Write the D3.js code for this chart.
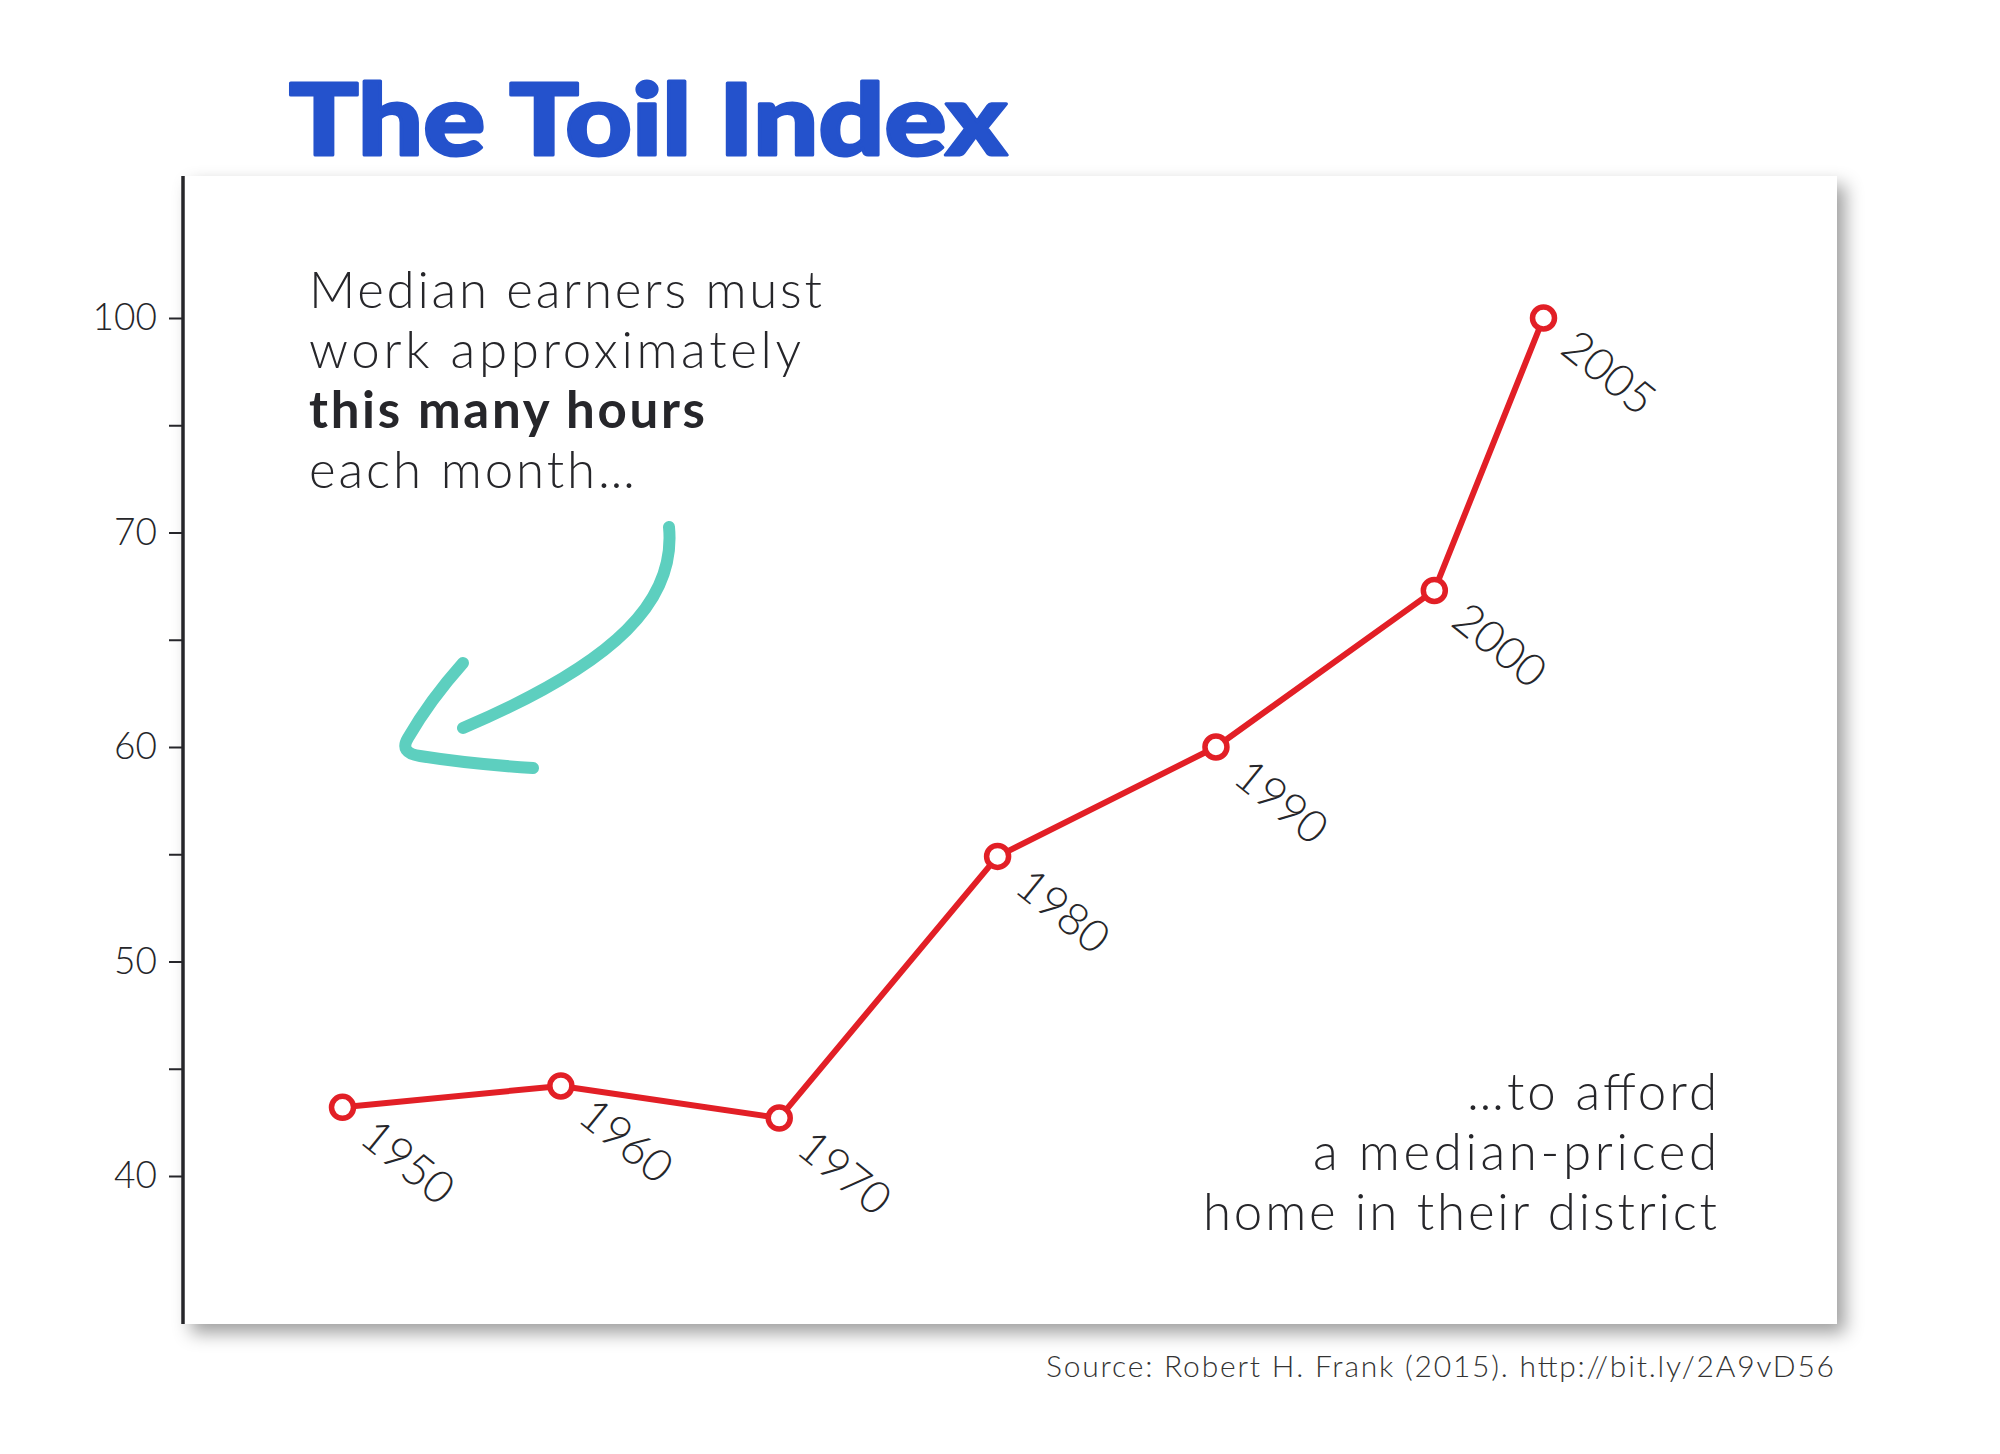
<!DOCTYPE html>
<html>
<head>
<meta charset="utf-8">
<script src="https://cdn.jsdelivr.net/npm/d3@7"></script>
<style>
    body { margin: 0; background: #ffffff; }
    text { font-family: "Lato", "Open Sans", sans-serif; }
</style>
</head>
<body>
<div id="chart"></div>
<script>

// data
let years = [1950, 1960, 1970, 1980, 1990, 2000, 2005];
let hours = [43.2, 44.2, 42.7, 54.9, 60.0, 67.3, 100];

// y axis is broken: labels are evenly spaced, 70 -> 100 squeezed into one step
let tick_values = [40, 50, 60, 70, 100];
let minor_tick_values = [45, 55, 65, 85];

let title_text = "The Toil Index";
let note_top = ["Median earners must", "work approximately", "this many hours", "each month\u2026"];
let note_bottom = ["\u2026to afford", "a median-priced", "home in their district"];
let source_text = "Source: Robert H. Frank (2015). http://bit.ly/2A9vD56";

let chart_width = 2000;
let chart_height = 1454;

let card = { x: 183, y: 176, w: 1654, h: 1148 };
let y_bottom = 1176;   // position of the first tick (40)
let y_step = 214.5;    // distance between labelled ticks

let red = "#e21f26";
let teal = "#5dcfbf";
let blue = "#2452cc";
let ink = "#26262a";

let svg = d3.select("#chart")
            .append("svg")
            .attr("width", chart_width)
            .attr("height", chart_height);

let defs = svg.append("defs");
let shadow = defs.append("filter")
                .attr("id", "card_shadow")
                .attr("x", "-5%").attr("y", "-5%")
                .attr("width", "112%").attr("height", "115%");
shadow.append("feDropShadow")
    .attr("dx", 8)
    .attr("dy", 9)
    .attr("stdDeviation", 9)
    .attr("flood-color", "#000")
    .attr("flood-opacity", 0.38);

// white card with shadow
svg.append("rect")
    .attr("x", card.x)
    .attr("y", card.y)
    .attr("width", card.w)
    .attr("height", card.h)
    .attr("fill", "#ffffff")
    .attr("filter", "url(#card_shadow)");

// title
svg.append("text")
    .attr("x", 289)
    .attr("y", 155)
    .attr("font-size", 99)
    .attr("font-weight", 900)
    .attr("fill", blue)
    .attr("stroke", blue)
    .attr("stroke-width", 3)
    .attr("stroke-linejoin", "round")
    .attr("textLength", 718)
    .attr("lengthAdjust", "spacingAndGlyphs")
    .text(title_text);

let xScale = d3.scaleLinear()
                .domain([1950, 2005])
                .range([342.5, 1543.5]);

let yScale = d3.scaleLinear()
                .domain(tick_values)
                .range(tick_values.map((d, i) => y_bottom - i * y_step));

// axis
let y_axis = svg.append("g")
                .attr("class", "y axis")
                .attr("transform", "translate(" + card.x + ",0)");

y_axis.call(d3.axisLeft(yScale)
                .tickValues(tick_values)
                .tickSize(14)
                .tickPadding(12)
                .tickFormat(d3.format("d")));

let y_minor = svg.append("g")
                .attr("class", "y minor")
                .attr("transform", "translate(" + card.x + ",0)");

y_minor.call(d3.axisLeft(yScale)
                .tickValues(minor_tick_values)
                .tickSize(14)
                .tickFormat(""));

svg.selectAll(".axis .domain, .minor .domain").remove();
svg.selectAll(".axis line, .minor line")
    .attr("stroke", ink)
    .attr("stroke-width", 2);
y_axis.selectAll("text")
    .attr("font-family", "Lato")
    .attr("font-size", 37)
    .attr("font-weight", 300)
    .attr("fill", ink);

svg.append("line")
    .attr("x1", card.x)
    .attr("x2", card.x)
    .attr("y1", card.y)
    .attr("y2", card.y + card.h)
    .attr("stroke", ink)
    .attr("stroke-width", 3.5);

// upper-left note
let note_top_lengths = [513, 492, 396, 326];
svg.selectAll(".note_top")
    .data(note_top)
    .enter()
    .append("text")
    .attr("class", "note_top")
    .attr("x", 309)
    .attr("y", (d, i) => 308 + i * 60)
    .attr("font-size", 51)
    .attr("font-weight", (d, i) => i === 2 ? 700 : 300)
    .attr("fill", ink)
    .attr("textLength", (d, i) => note_top_lengths[i])
    .attr("lengthAdjust", "spacing")
    .text(d => d);

// lower-right note
let note_bottom_lengths = [250, 404, 514];
svg.selectAll(".note_bottom")
    .data(note_bottom)
    .enter()
    .append("text")
    .attr("class", "note_bottom")
    .attr("x", 1717)
    .attr("y", (d, i) => 1110 + i * 60)
    .attr("text-anchor", "end")
    .attr("font-size", 51)
    .attr("font-weight", 300)
    .attr("fill", ink)
    .attr("textLength", (d, i) => note_bottom_lengths[i])
    .attr("lengthAdjust", "spacing")
    .text(d => d);

// hand drawn arrow
let arrow = svg.append("g")
                .attr("fill", "none")
                .attr("stroke", teal)
                .attr("stroke-width", 12)
                .attr("stroke-linecap", "round")
                .attr("stroke-linejoin", "round");
arrow.append("path")
    .attr("d", "M669,527 C676,600 618,662 463,728");
arrow.append("path")
    .attr("d", "M463,663 Q430,700 408,738 Q399,753 420,756 Q470,764 533,768");

// line + points
let points = years.map((d, i) => ({ year: d, value: hours[i] }));

let line = d3.line()
            .x(d => xScale(d.year))
            .y(d => yScale(d.value));

svg.append("path")
    .datum(points)
    .attr("d", line)
    .attr("fill", "none")
    .attr("stroke", red)
    .attr("stroke-width", 6)
    .attr("stroke-linejoin", "round");

svg.selectAll(".point")
    .data(points)
    .enter()
    .append("circle")
    .attr("class", "point")
    .attr("cx", d => xScale(d.year))
    .attr("cy", d => yScale(d.value))
    .attr("r", 11)
    .attr("fill", "#ffffff")
    .attr("stroke", red)
    .attr("stroke-width", 5.5);

svg.selectAll(".year_label")
    .data(points)
    .enter()
    .append("text")
    .attr("class", "year_label")
    .attr("transform", d => "translate(" + (xScale(d.year) + 15) + "," + (yScale(d.value) + 34) + ") rotate(39)")
    .attr("font-size", 45)
    .attr("font-weight", 300)
    .attr("fill", ink)
    .text(d => d.year);

// source
svg.append("text")
    .attr("x", 1834)
    .attr("y", 1377)
    .attr("text-anchor", "end")
    .attr("font-size", 30)
    .attr("font-weight", 300)
    .attr("fill", "#333")
    .attr("textLength", 788)
    .attr("lengthAdjust", "spacing")
    .text(source_text);

</script>
</body>
</html>
